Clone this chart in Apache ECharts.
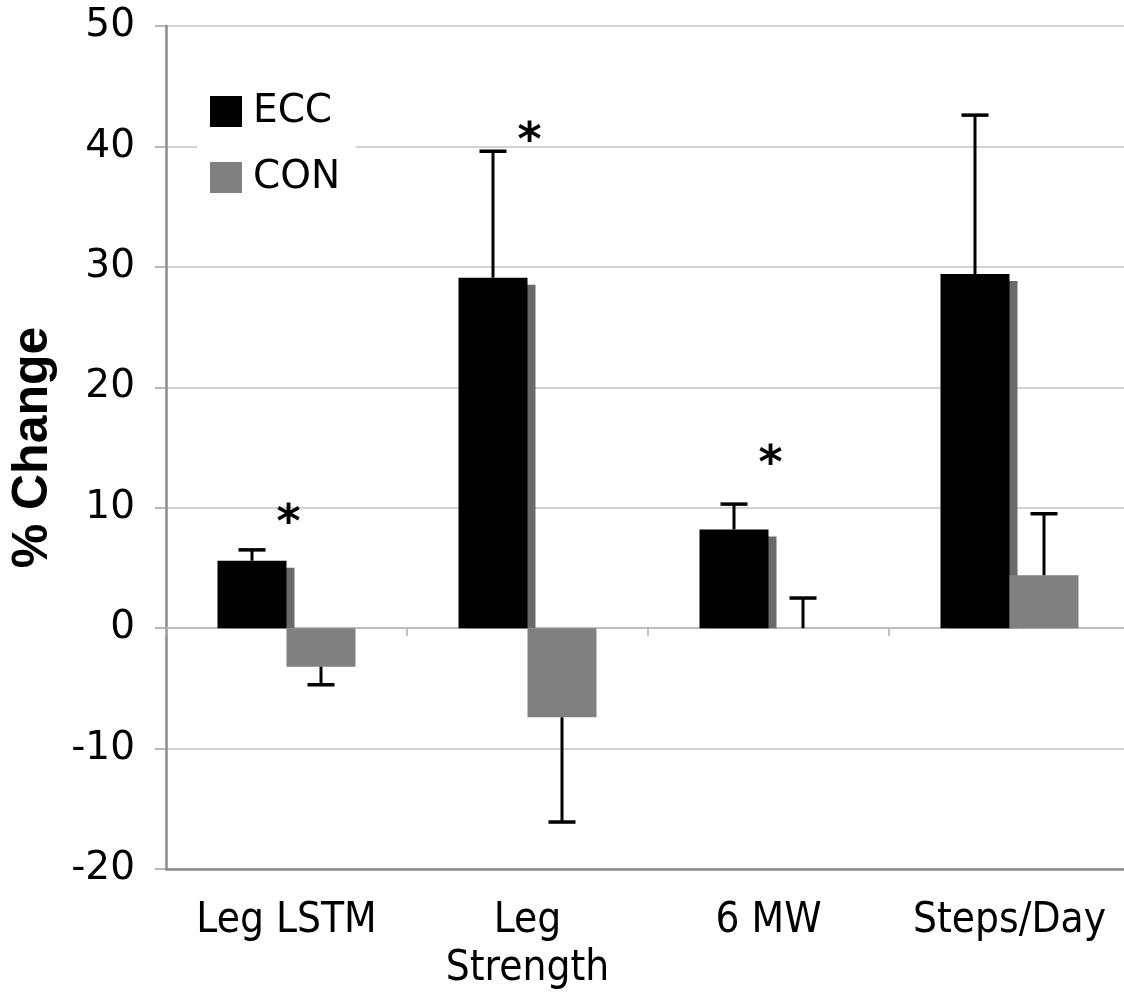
<!DOCTYPE html>
<html>
<head>
<meta charset="utf-8">
<script src="https://cdn.jsdelivr.net/npm/echarts@6/dist/echarts.min.js"></script>
<style>
  html, body { margin: 0; padding: 0; background: #fff; }
  #chart { width: 1124px; height: 998px; }
</style>
</head>
<body>
<div id="chart"></div>
<script>
// ---- data ----
const categories = ['Leg LSTM', 'Leg\nStrength', '6 MW', 'Steps/Day'];
const eccValues = [5.6, 29.1, 8.2, 29.4];
const eccErrors = [0.9, 10.5, 2.1, 13.2];
const conValues = [-3.2, -7.4, 0, 4.4];
const conErrors = [1.5, 8.7, 2.5, 5.1];
const sigCategoryIndex = [0, 1, 2];
const sigY = [8.6, 40.3, 13.5];
const yTicks = { min: -20, max: 50, interval: 10 };

// ---- styles ----
const BAR_W = 69;
const FONT = 'DejaVu Sans';
const FONT_COND = '"DejaVu Sans Condensed", "DejaVu Sans"';

const chart = echarts.init(document.getElementById('chart'), null, { renderer: 'canvas' });

function errorBarRender(side) {
  return function (params, api) {
    const i = api.value(0), mean = api.value(1), err = api.value(2);
    const sign = mean >= 0 ? 1 : -1;
    const p0 = api.coord([i, mean]);
    const p1 = api.coord([i, mean + sign * err]);
    const x = p0[0] + side * BAR_W / 2;
    const capHalf = 13.5;
    return {
      type: 'group',
      children: [
        { type: 'line', shape: { x1: x, y1: p0[1], x2: x, y2: p1[1] },
          style: { stroke: '#000', lineWidth: 3 } },
        { type: 'line', shape: { x1: x - capHalf, y1: p1[1], x2: x + capHalf, y2: p1[1] },
          style: { stroke: '#000', lineWidth: 3.5 } }
      ]
    };
  };
}

function shadowRender(params, api) {
  const i = api.value(0), v = api.value(1);
  if (v <= 0) return null;
  const p = api.coord([i, v]);
  const z = api.coord([i, 0]);
  const top = p[1] + 7;
  return {
    type: 'rect',
    shape: { x: p[0] - BAR_W + 8, y: top, width: BAR_W, height: z[1] - top },
    style: { fill: '#6a6a6a' }
  };
}

function sigRender(params, api) {
  const i = api.value(0), y = api.value(1);
  const p = api.coord([i, y]);
  return {
    type: 'text',
    x: p[0] + 2,
    y: p[1],
    style: {
      text: '*',
      font: 'bold 46px "DejaVu Sans"',
      fill: '#000',
      align: 'center',
      verticalAlign: 'middle'
    }
  };
}

const option = {
  backgroundColor: '#fff',
  animation: false,
  grid: { left: 166, right: -6, top: 26, bottom: 129, containLabel: false, outerBoundsMode: 'none' },
  legend: {
    data: ['ECC', 'CON'],
    orient: 'vertical',
    left: 197,
    top: 80,
    padding: [12, 16, 12, 13],
    backgroundColor: '#fff',
    itemWidth: 32,
    itemHeight: 31,
    itemGap: 27,
    icon: 'rect',
    textStyle: { fontFamily: FONT, fontSize: 39, color: '#000', padding: [0, 0, 0, 6] }
  },
  xAxis: [
    {
      type: 'category',
      data: categories,
      position: 'bottom',
      axisLine: { show: true, onZero: false, lineStyle: { color: '#8a8a8a', width: 2.5 } },
      axisTick: { show: false },
      axisLabel: { interval: 0, fontFamily: FONT_COND, fontSize: 42, color: '#000', margin: 28, lineHeight: 48 },
      splitLine: { show: false }
    },
    {
      type: 'category',
      data: categories,
      position: 'bottom',
      axisLine: { show: true, onZero: true, onZeroAxisIndex: 0, lineStyle: { color: '#b8b8b8', width: 1.5 } },
      axisTick: { show: true, length: 8, lineStyle: { color: '#b0b0b0', width: 1.5 } },
      axisLabel: { show: false },
      splitLine: { show: false }
    }
  ],
  yAxis: {
    type: 'value',
    min: yTicks.min,
    max: yTicks.max,
    interval: yTicks.interval,
    name: '% Change',
    nameLocation: 'middle',
    nameGap: 108,
    nameTextStyle: { fontFamily: 'Liberation Sans', fontWeight: 'bold', fontSize: 50, color: '#000' },
    axisLine: { show: true, lineStyle: { color: '#8a8a8a', width: 2.5 } },
    axisTick: { show: true, length: 11, lineStyle: { color: '#a0a0a0', width: 1.5 } },
    axisLabel: { fontFamily: FONT, fontSize: 39, color: '#000', margin: 31 },
    splitLine: { show: true, lineStyle: { color: '#c4c4c4', width: 1.5 } }
  },
  series: [
    {
      name: 'shadow',
      type: 'custom',
      xAxisIndex: 0,
      renderItem: shadowRender,
      data: eccValues.map((v, i) => [i, v]),
      silent: true,
      z: 1
    },
    {
      name: 'ECC',
      type: 'bar',
      xAxisIndex: 0,
      data: eccValues,
      barWidth: BAR_W,
      barGap: '0%',
      itemStyle: { color: '#000' },
      z: 2
    },
    {
      name: 'CON',
      type: 'bar',
      xAxisIndex: 0,
      data: conValues,
      barWidth: BAR_W,
      barGap: '0%',
      itemStyle: { color: '#808080' },
      z: 2
    },
    {
      name: 'eccErr',
      type: 'custom',
      xAxisIndex: 0,
      renderItem: errorBarRender(-1),
      data: eccValues.map((v, i) => [i, v, eccErrors[i]]),
      z: 3
    },
    {
      name: 'conErr',
      type: 'custom',
      xAxisIndex: 0,
      renderItem: errorBarRender(1),
      data: conValues.map((v, i) => [i, v, conErrors[i]]),
      z: 3
    },
    {
      name: 'sig',
      type: 'custom',
      xAxisIndex: 0,
      renderItem: sigRender,
      data: sigCategoryIndex.map((c, k) => [c, sigY[k]]),
      silent: true,
      z: 4
    }
  ]
};

chart.setOption(option);
</script>
</body>
</html>
